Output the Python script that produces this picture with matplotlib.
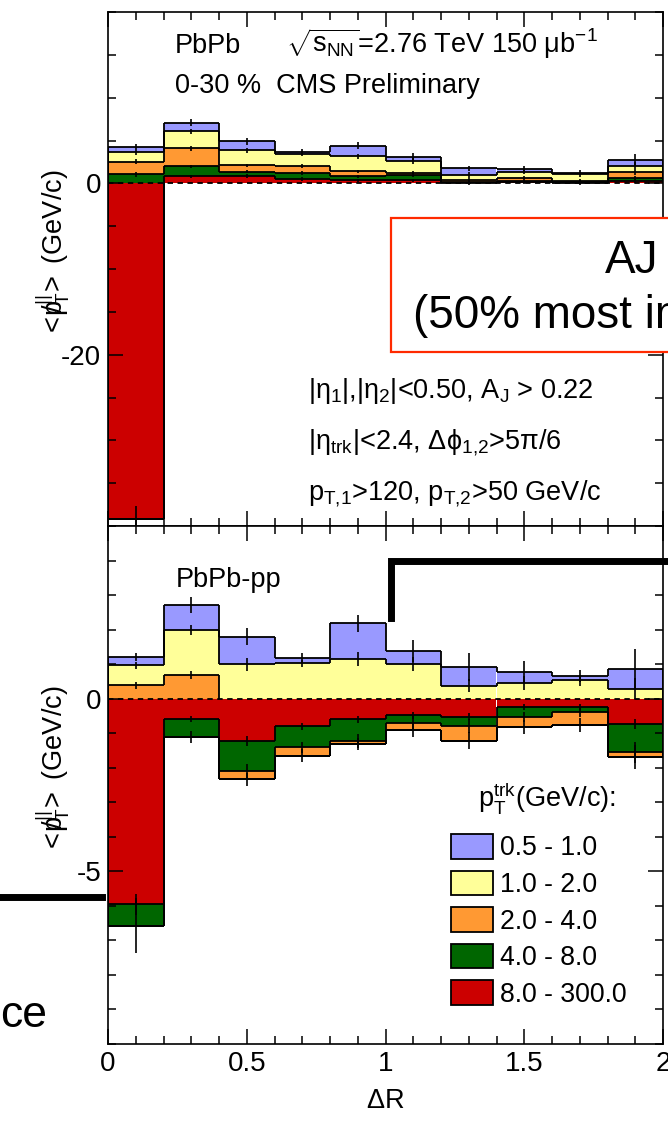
import numpy as np
import matplotlib
matplotlib.use("Agg")
import matplotlib.pyplot as plt
from matplotlib.patches import Patch, Rectangle
from matplotlib.lines import Line2D
from matplotlib.collections import LineCollection
from matplotlib.ticker import FixedLocator, MultipleLocator

plt.rcParams['font.family'] = ['Liberation Sans', 'DejaVu Sans']
plt.rcParams['mathtext.fontset'] = 'custom'
plt.rcParams['mathtext.rm'] = 'Liberation Sans'
plt.rcParams['mathtext.it'] = 'Liberation Sans:italic'
plt.rcParams['mathtext.bf'] = 'Liberation Sans:bold'
plt.rcParams['mathtext.default'] = 'regular'
plt.rcParams['axes.unicode_minus'] = False

# --- data: <pT||> per track-pT class in DeltaR bins ---
dr_edges = [0.0, 0.2, 0.4, 0.6, 0.8, 1.0, 1.2, 1.4, 1.6, 1.8, 2.0]
pt_bins = ["8.0 - 300.0", "4.0 - 8.0", "2.0 - 4.0", "1.0 - 2.0", "0.5 - 1.0"]
pt_colors = ["#cc0000", "#006600", "#ff9933", "#ffff99", "#9999ff"]

# PbPb 0-30%
pbpb_red    = [-39.2, 0.82, 0.85, 0.50, 0.35, 0.35, 0.05, 0.10, 0.05, 0.27]
pbpb_green  = [1.05, 1.17, 0.51, 0.70, 0.47, 0.62, 0.15, 0.20, 0.10, 0.35]
pbpb_orange = [1.45, 2.10, 0.74, 0.80, 0.58, 0.28, 0.20, 0.36, 0.15, 0.70]
pbpb_yellow = [1.16, 1.99, 1.76, 1.47, 1.76, 1.36, 0.57, 0.70, 0.75, 0.75]
pbpb_blue   = [0.59, 1.02, 1.04, 0.19, 1.21, 0.51, 0.78, 0.36, 0.20, 0.70]
pbpb_err_red    = [1.5, 0.2, 0.2, 0.2, 0.2, 0.2, 0.2, 0.2, 0.2, 0.2]
pbpb_err_green  = [0.3, 0.2, 0.2, 0.2, 0.2, 0.2, 0.2, 0.2, 0.2, 0.2]
pbpb_err_orange = [0.3, 0.3, 0.2, 0.2, 0.2, 0.2, 0.2, 0.2, 0.2, 0.3]
pbpb_err_yellow = [0.3, 0.3, 0.3, 0.3, 0.3, 0.3, 0.3, 0.3, 0.3, 0.4]
pbpb_err_blue   = [0.3, 0.4, 0.4, 0.4, 0.4, 0.4, 0.3, 0.3, 0.3, 0.7]

# PbPb - pp
diff_red    = [-5.95, -0.59, -1.22, -0.80, -0.60, -0.48, -0.52, -0.24, -0.24, -0.74]
diff_green  = [-0.62, -0.53, -0.88, -0.61, -0.62, -0.23, -0.27, -0.29, -0.14, -0.81]
diff_orange = [0.39, 0.68, -0.24, -0.24, -0.09, -0.20, -0.43, -0.30, -0.39, -0.15]
diff_yellow = [0.58, 1.31, 0.99, 1.02, 1.16, 1.00, 0.38, 0.46, 0.53, 0.29]
diff_blue   = [0.24, 0.72, 0.81, 0.16, 1.02, 0.37, 0.54, 0.31, 0.12, 0.57]
diff_err_red    = [0.30, 0.10, 0.15, 0.10, 0.10, 0.10, 0.10, 0.10, 0.10, 0.15]
diff_err_green  = [0.80, 0.17, 0.20, 0.15, 0.20, 0.20, 0.20, 0.15, 0.15, 0.30]
diff_err_orange = [0.10, 0.12, 0.20, 0.18, 0.18, 0.20, 0.25, 0.20, 0.20, 0.35]
diff_err_yellow = [0.10, 0.15, 0.20, 0.10, 0.20, 0.20, 0.20, 0.20, 0.15, 0.30]
diff_err_blue   = [0.12, 0.22, 0.26, 0.14, 0.25, 0.32, 0.40, 0.31, 0.18, 0.59]

W, H = 668, 1121


def fx(px):
    return px / W


def fy(py):
    return 1 - py / H


def step_outline(ax, level, edges):
    # ROOT-like histogram outline, skipping flat segments at zero
    segs = []
    n = len(level)
    for i in range(n):
        if level[i] != 0:
            segs.append([(edges[i], level[i]), (edges[i + 1], level[i])])
    prev = [0.0] + list(level)
    nxt = list(level) + [0.0]
    for i in range(n + 1):
        if prev[i] != nxt[i]:
            segs.append([(edges[i], prev[i]), (edges[i], nxt[i])])
    ax.add_collection(LineCollection(segs, colors='k', linewidths=1.3, zorder=2))


def draw_stack(ax, vals, errs):
    edges = np.array(dr_edges)
    centers = (edges[:-1] + edges[1:]) / 2
    width = edges[1] - edges[0]
    pos = np.zeros(len(centers))
    neg = np.zeros(len(centers))
    levels, ends = [], []
    for v, c in zip(vals, pt_colors):
        v = np.asarray(v, dtype=float)
        p = np.clip(v, 0, None)
        n = np.clip(v, None, 0)
        ax.bar(centers, p, width=width, bottom=pos, color=c, lw=0, zorder=1)
        ax.bar(centers, n, width=width, bottom=neg, color=c, lw=0, zorder=1)
        pos = pos + p
        neg = neg + n
        levels += [pos.copy(), neg.copy()]
        ends.append(np.where(v >= 0, pos, neg))
    for lv in levels:
        step_outline(ax, lv, edges)
    ax.axhline(0, color='k', lw=1.3, ls=(0, (3, 2.5)), zorder=2.5)
    for end, e in zip(ends, errs):
        ax.errorbar(centers, end, yerr=e, fmt='none', ecolor='k',
                    elinewidth=1.2, capsize=0, zorder=3)


fig = plt.figure(figsize=(W / 100, H / 100), dpi=100)
ax1 = fig.add_axes([fx(108), fy(526), fx(663) - fx(108), fy(12) - fy(526)])
ax2 = fig.add_axes([fx(108), fy(1044), fx(663) - fx(108), fy(526) - fy(1044)])

draw_stack(ax1, [pbpb_red, pbpb_green, pbpb_orange, pbpb_yellow, pbpb_blue],
           [pbpb_err_red, pbpb_err_green, pbpb_err_orange, pbpb_err_yellow, pbpb_err_blue])
draw_stack(ax2, [diff_red, diff_green, diff_orange, diff_yellow, diff_blue],
           [diff_err_red, diff_err_green, diff_err_orange, diff_err_yellow, diff_err_blue])

ax1.set_ylim(-40, 20)
ax2.set_ylim(-10, 5)
ax1.yaxis.set_major_locator(FixedLocator([-20, 0]))
ax1.yaxis.set_minor_locator(MultipleLocator(5))
ax2.yaxis.set_major_locator(FixedLocator([-5, 0]))
ax2.yaxis.set_minor_locator(MultipleLocator(1))

for ax in (ax1, ax2):
    ax.set_xlim(0, 2)
    ax.xaxis.set_major_locator(FixedLocator([0, 0.5, 1, 1.5, 2]))
    ax.xaxis.set_minor_locator(MultipleLocator(0.1))
    ax.tick_params(which='both', direction='in', top=True, right=True,
                   width=1.1, labelsize=20, pad=5)
    ax.tick_params(which='major', length=11)
    ax.tick_params(which='minor', length=6)
    for s in ax.spines.values():
        s.set_linewidth(1.2)
    ax.set_ylabel(r'$<\!p\!\!\!/_{T}^{||}\!>$ (GeV/c)', fontsize=19.5)
    ax.yaxis.set_label_coords((72 - 108) / 555, 0.53)

ax1.set_yticklabels(['-20', '0'])
ax2.set_yticklabels(['-5', '0'])
ax1.tick_params(labelbottom=False)
ax2.set_xticklabels(['0', '0.5', '1', '1.5', '2'])
ax2.set_xlabel(r'$\Delta$R', fontsize=19.5)
ax2.xaxis.set_label_coords(0.5, (1044 - 1088) / 518)

# plot annotations
fs = 19.5
fig.text(fx(175), fy(53), 'PbPb', fontsize=fs, va='baseline')
fig.text(fx(286), fy(53), r'$\sqrt{s_{NN}}$=2.76 TeV 150 $\mu$b$^{-1}$', fontsize=fs, va='baseline')
fig.text(fx(175), fy(93), '0-30 %  CMS Preliminary', fontsize=fs, va='baseline')
fig.text(fx(308), fy(398), r'$|\eta_{1}|{,}|\eta_{2}|$<0.50, A$_{J}$ > 0.22', fontsize=fs, va='baseline')
fig.text(fx(308), fy(449), r'$|\eta_{trk}|$<2.4, $\Delta\phi_{1{,}2}$>5$\pi$/6', fontsize=fs, va='baseline')
fig.text(fx(308), fy(500), r'p$_{T{,}1}$>120, p$_{T{,}2}$>50 GeV/c', fontsize=fs, va='baseline')
fig.text(fx(176), fy(587), 'PbPb-pp', fontsize=fs, va='baseline')
fig.text(fx(478), fy(806), r'$p_{T}^{trk}$(GeV/c):', fontsize=fs, va='baseline')

handles = [Patch(facecolor=c, edgecolor='k', lw=1.3) for c in pt_colors[::-1]]
ax2.legend(handles, pt_bins[::-1], loc='upper left',
           bbox_to_anchor=(fx(451), fy(834)), bbox_transform=fig.transFigure,
           frameon=False, fontsize=19.2, handlelength=1.57, handleheight=1.05,
           handletextpad=0.26, labelspacing=0.34, borderpad=0, borderaxespad=0)

# slide overlays
fig.add_artist(Rectangle((fx(391), fy(352)), fx(720) - fx(391), fy(218) - fy(352),
                         transform=fig.transFigure, facecolor='white',
                         edgecolor='#ff2a00', lw=1.6, zorder=10))
fig.text(fx(658), fy(273), 'AJ', fontsize=33, ha='right', va='baseline', zorder=11)
fig.text(fx(413), fy(328), '(50% most imbalanced)', fontsize=33, ha='left',
         va='baseline', zorder=11)
fig.add_artist(Line2D([fx(391), fx(391), fx(680)], [fy(618), fy(561), fy(561)],
                      transform=fig.transFigure, color='k', lw=5,
                      solid_joinstyle='miter', zorder=12))
fig.add_artist(Line2D([fx(-5), fx(102)], [fy(897), fy(897)],
                      transform=fig.transFigure, color='k', lw=5, zorder=12))
fig.text(fx(0), fy(1027), 'ce', fontsize=32, va='baseline')

fig.savefig('out.png', dpi=100)
